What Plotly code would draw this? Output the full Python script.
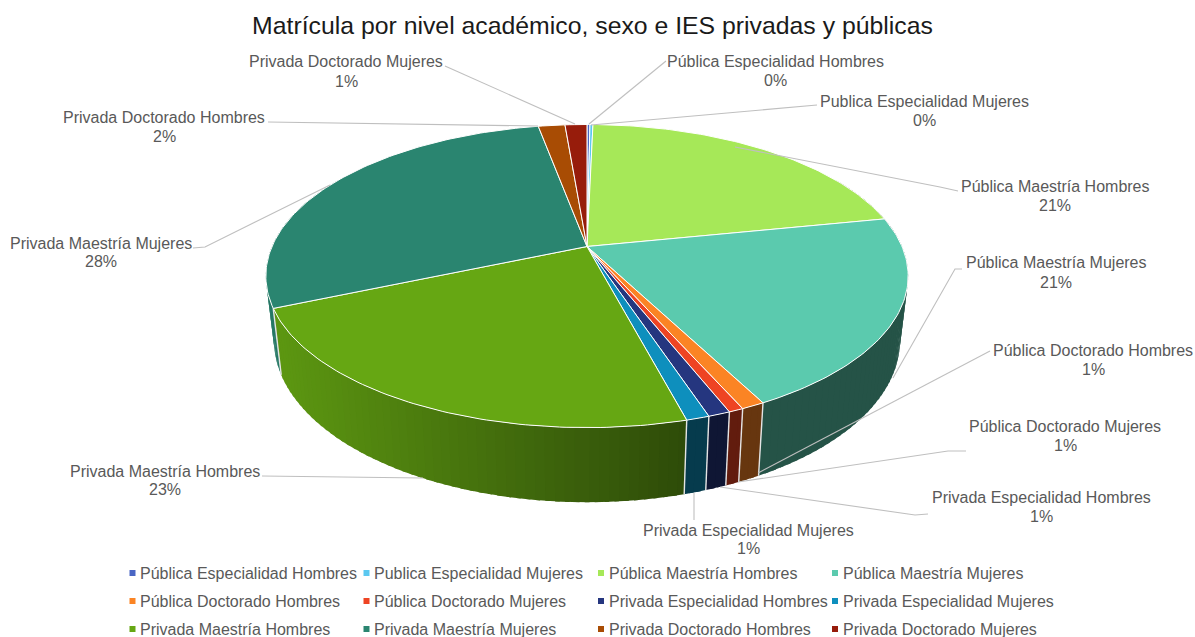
import math
import plotly.graph_objects as go

TITLE = "Matrícula por nivel académico, sexo e IES privadas y públicas"
categories = ["Pública Especialidad Hombres", "Publica Especialidad Mujeres", "Pública Maestría Hombres",
              "Pública Maestría Mujeres", "Pública Doctorado Hombres", "Pública Doctorado Mujeres",
              "Privada Especialidad Hombres", "Privada Especialidad Mujeres", "Privada Maestría Hombres",
              "Privada Maestría Mujeres", "Privada Doctorado Hombres", "Privada Doctorado Mujeres"]
values = [0.18, 0.18, 21.49, 20.50, 0.99, 0.62, 0.93, 0.97, 22.72, 28.46, 1.62, 1.33]
pct_labels = ["0%", "0%", "21%", "21%", "1%", "1%", "1%", "1%", "23%", "28%", "2%", "1%"]
colors = ["#4A66C4", "#5BC8F0", "#A6E858", "#5BCAAE", "#FB8424", "#EE4423",
          "#25367F", "#0E8FBD", "#66A713", "#2A8570", "#A84C04", "#971C0B"]

# label centre (x, first line y, second line y) in the picture's pixel frame
label_pos = [(775.5, 61, 80), (924, 101, 120), (1055, 186, 205), (1056, 262, 282),
             (1093, 350, 369), (1065, 426, 445), (1041, 497, 516), (748, 530, 548),
             (165, 471, 489), (101, 243, 261), (164, 117, 136), (346, 61, 81)]
leaders = [[(666, 61), (589, 124)], [(817, 105), (591, 125)], [(958, 191), (940, 187), (735, 147)],
           [(962, 269), (955, 269), (893, 378)], [(990, 351), (758, 473)],
           [(966, 451), (948, 451), (738, 482)], [(928, 514), (915, 515), (720, 487)],
           [(694, 520), (694, 493)], [(262, 476), (423, 478)], [(193, 248), (205, 247), (330, 185)],
           [(268, 122), (538, 126)], [(445, 66), (575, 124)]]
legend_cols = [132.5, 366.5, 601, 835]
legend_text_x = [137.5, 371.5, 607, 841]
legend_rows = [573, 601, 629]

CX, CY, A, B, K = 587, 246.5, 315, 145.8, 0.195
BOT_CY, BOT_A, BOT_B = 308.8, 307, 155.7


def project(deg, r=1.0, bottom=False):
    t = math.radians(deg)
    u, v = r * math.sin(t), -r * math.cos(t)
    d = 1 - K * v
    if bottom:
        return CX + BOT_A * u / d, BOT_CY + BOT_B * v / d
    return CX + A * u / d, CY + B * v / d


def shade(hex_color, f):
    c = [int(hex_color[i:i + 2], 16) for i in (1, 3, 5)]
    return "rgb(%d,%d,%d)" % tuple(round(x * f) for x in c)


def wall_factor(x):
    if x <= 285:
        return 0.90
    if x >= 684:
        return 0.41
    return 0.90 - (x - 285) / (684 - 285) * 0.45


total = sum(values)
bounds = [0.0]
for val in values:
    bounds.append(bounds[-1] + val / total * 360)

fig = go.Figure()

facets = []
for i, col in enumerate(colors):
    a0, a1 = bounds[i], bounds[i + 1]
    lo, hi = max(a0, 60), min(a1, 300)
    if hi <= lo:
        continue
    n = max(1, math.ceil((hi - lo) / 1.5))
    for j in range(n):
        s = lo + (hi - lo) * j / n
        e = lo + (hi - lo) * (j + 1) / n
        facets.append((abs((s + e) / 2 - 180), s, e, col, lo, hi))
facets.sort(key=lambda f: -f[0])
for _, s, e, col, lo, hi in facets:
    # each facet reaches a little under its neighbours so no seam shows
    s2, e2 = max(lo, s - 0.35), min(hi, e + 0.35)
    p = [project(s2), project(e2), project(e2, bottom=True), project(s2, bottom=True), project(s2)]
    xm = (project(s)[0] + project(e)[0] + project(e, bottom=True)[0] + project(s, bottom=True)[0]) / 4
    c = shade(col, wall_factor(xm))
    fig.add_trace(go.Scatter(x=[q[0] for q in p], y=[q[1] for q in p], mode="lines", fill="toself",
                             fillcolor=c, line=dict(color=c, width=0), hoverinfo="skip", showlegend=False))

# separators on the visible wall
for b_ang in bounds[1:]:
    if 150 <= b_ang <= 250:
        p, q = project(b_ang), project(b_ang, bottom=True)
        fig.add_trace(go.Scatter(x=[p[0], q[0]], y=[p[1], q[1]], mode="lines",
                                 line=dict(color="#E4E4E4", width=1.4), hoverinfo="skip", showlegend=False))

for i, (name, col) in enumerate(zip(categories, colors)):
    a0, a1 = bounds[i], bounds[i + 1]
    n = max(2, math.ceil((a1 - a0) / 1))
    pts = [(CX, CY)] + [project(a0 + (a1 - a0) * j / n) for j in range(n + 1)] + [(CX, CY)]
    fig.add_trace(go.Scatter(x=[q[0] for q in pts], y=[q[1] for q in pts], mode="lines", fill="toself",
                             fillcolor=col, line=dict(color="#FFFFFF", width=1.0), name=name,
                             hovertemplate=name + ": %{text}<extra></extra>", text=[pct_labels[i]] * len(pts),
                             showlegend=False))

for pts in leaders:
    fig.add_trace(go.Scatter(x=[q[0] for q in pts], y=[q[1] for q in pts], mode="lines",
                             line=dict(color="#BFBFBF", width=1.1), hoverinfo="skip", showlegend=False))

annotations = []
FONT = "Liberation Sans"
for name, pct, (x, y1, y2) in zip(categories, pct_labels, label_pos):
    annotations.append(dict(x=x, y=y1, text=name, showarrow=False, xanchor="center", yanchor="middle",
                            font=dict(family=FONT, size=16, color="#595959")))
    annotations.append(dict(x=x, y=y2, text=pct, showarrow=False, xanchor="center", yanchor="middle",
                            font=dict(family=FONT, size=16, color="#595959")))

for i, (name, col) in enumerate(zip(categories, colors)):
    r, c = divmod(i, 4)
    fig.add_trace(go.Scatter(x=[legend_cols[c]], y=[legend_rows[r]], mode="markers", name=name,
                             marker=dict(symbol="square", size=6, color=col), hoverinfo="skip", showlegend=False))
    annotations.append(dict(x=legend_text_x[c], y=legend_rows[r], text=name, showarrow=False,
                            xanchor="left", yanchor="middle",
                            font=dict(family=FONT, size=16, color="#595959")))

fig.update_layout(
    width=1195, height=637, margin=dict(l=0, r=0, t=0, b=0),
    paper_bgcolor="white", plot_bgcolor="white", showlegend=False,
    title=dict(text=TITLE, x=592.5 / 1195, xanchor="center", y=1 - 25 / 637, yanchor="middle",
               font=dict(family=FONT, size=24.8, color="#1A1A1A")),
    xaxis=dict(range=[0, 1195], visible=False, fixedrange=True),
    yaxis=dict(range=[637, 0], visible=False, fixedrange=True),
    annotations=annotations,
)
fig.write_html("out.html", config={"displayModeBar": False},
               post_script="document.body.style.margin='0';document.body.style.overflow='hidden';")
